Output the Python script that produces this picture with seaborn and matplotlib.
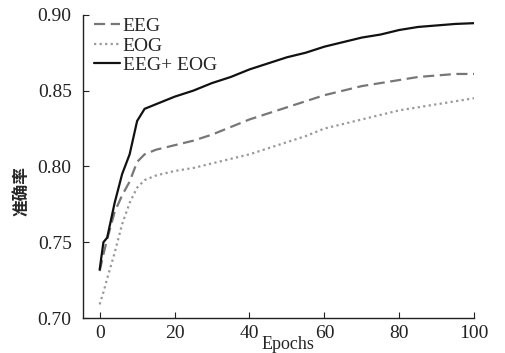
import matplotlib
matplotlib.use('Agg')
import matplotlib.pyplot as plt
import pandas as pd
import seaborn as sns

EPOCHS = [0, 1, 2, 4, 6, 8, 10, 12, 15, 20, 25, 30, 35, 40, 45, 50,
          55, 60, 65, 70, 75, 80, 85, 90, 95, 100]
EEG = [0.731, 0.742, 0.752, 0.770, 0.781, 0.790, 0.803, 0.808, 0.811, 0.814,
       0.817, 0.821, 0.826, 0.831, 0.835, 0.839, 0.843, 0.847, 0.850, 0.853,
       0.855, 0.857, 0.859, 0.860, 0.861, 0.861]
EOG = [0.709, 0.717, 0.726, 0.743, 0.762, 0.776, 0.786, 0.791, 0.794, 0.797,
       0.799, 0.802, 0.805, 0.808, 0.812, 0.816, 0.820, 0.825, 0.828, 0.831,
       0.834, 0.837, 0.839, 0.841, 0.843, 0.845]
EEG_EOG = [0.732, 0.750, 0.753, 0.776, 0.795, 0.808, 0.830, 0.838, 0.841, 0.846,
           0.850, 0.855, 0.859, 0.864, 0.868, 0.872, 0.875, 0.879, 0.882, 0.885,
           0.887, 0.890, 0.892, 0.893, 0.894, 0.8945]
SERIES = ['EEG', 'EOG', 'EEG+ EOG']
X_TICKS = [0, 20, 40, 60, 80, 100]
Y_TICKS = [0.70, 0.75, 0.80, 0.85, 0.90]

sns.set_theme(style='ticks')
plt.rcParams['font.family'] = ['Liberation Serif', 'Noto Sans CJK SC']

df = pd.DataFrame({
    'epoch': EPOCHS * 3,
    'acc': EEG + EOG + EEG_EOG,
    'model': [s for s in SERIES for _ in EPOCHS],
})

fig = plt.figure(figsize=(5.05, 3.53), dpi=100)
ax = fig.add_axes([0.164, 0.099, 0.775, 0.859])

styles = {'EEG': ('#777777', (0, (5, 2.5))),
          'EOG': ('#999999', (0, (1, 1.5))),
          'EEG+ EOG': ('#111111', '-')}
for name in SERIES:
    color, ls = styles[name]
    sns.lineplot(data=df[df['model'] == name], x='epoch', y='acc', ax=ax,
                 color=color, linestyle=ls, linewidth=1.6, label=name)

ax.set_xlim(-4.5, 100)
ax.set_ylim(0.70, 0.90)
ax.set_xticks(X_TICKS)
ax.set_yticks(Y_TICKS)
ax.set_yticklabels([f'{v:.2f}' for v in Y_TICKS])
ax.tick_params(direction='in', length=4, width=0.8, labelsize=14, colors='#222222')
ax.tick_params(axis='x', pad=5)
ax.tick_params(axis='y', pad=8)
for s in ['top', 'right']:
    ax.spines[s].set_visible(False)
for s in ['left', 'bottom']:
    ax.spines[s].set_linewidth(1.0)
    ax.spines[s].set_color('#222222')

ax.set_xlabel('Epochs', fontsize=13)
ax.xaxis.set_label_coords(0.525, -0.06)
ax.set_ylabel('准确率', fontsize=12, fontweight='bold',
              family=['Noto Sans CJK SC', 'DejaVu Sans'])
ax.yaxis.set_label_coords(-0.135, 0.42)

leg = ax.legend(loc='upper left', bbox_to_anchor=(0.0, 1.03), frameon=False,
                fontsize=14, handlelength=1.3, handletextpad=0.15,
                labelspacing=0.1, borderaxespad=0.2)

fig.savefig('out.png', dpi=100)
